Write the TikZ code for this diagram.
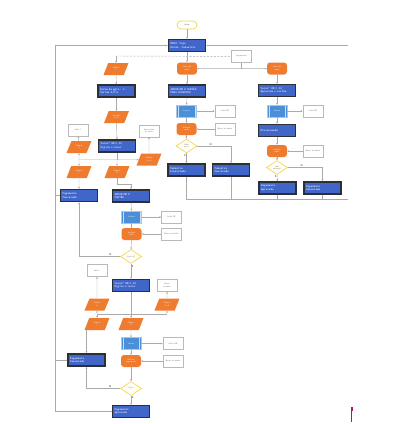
\documentclass[tikz,border=0pt]{standalone}
\usetikzlibrary{shapes.geometric,arrows.meta}

\definecolor{lcdblue}{HTML}{3F66C8}
\definecolor{lcdframe}{HTML}{2C2F36}
\definecolor{inorange}{HTML}{EF7C2E}
\definecolor{procblue}{HTML}{4A8FD8}
\definecolor{decyellow}{HTML}{F3D34A}
\definecolor{wire}{HTML}{AAAAAA}
\definecolor{markpink}{HTML}{B0186A}

\tikzset{
  lcd/.style={draw=lcdframe, line width=1.5pt, fill=lcdblue, text=white,
    minimum width=37pt, minimum height=12pt, inner sep=0pt, text width=33pt,
    align=left, font=\ttfamily\fontsize{3}{3.5}\selectfont},
  entrada/.style={trapezium, trapezium left angle=62, trapezium right angle=118,
    trapezium stretches=true, fill=inorange, text=white, minimum width=25pt,
    minimum height=12pt, inner sep=0pt, align=center,
    font=\sffamily\fontsize{2}{2.5}\selectfont},
  leitor/.style={rectangle, rounded corners=3pt, fill=inorange, text=white,
    minimum width=20pt, minimum height=12pt, inner sep=0pt, align=center,
    font=\sffamily\fontsize{2}{2.5}\selectfont},
  leitura/.style={rectangle, fill=procblue, draw=procblue!50!white, line width=0.4pt,
    text=white, minimum width=20pt, minimum height=12pt, inner sep=0pt,
    font=\sffamily\fontsize{2}{2.5}\selectfont,
    path picture={
      \draw[white!70!procblue, line width=0.3pt]
        ([xshift=1.8pt]path picture bounding box.north west) -- ([xshift=1.8pt]path picture bounding box.south west)
        ([xshift=-1.8pt]path picture bounding box.north east) -- ([xshift=-1.8pt]path picture bounding box.south east);}},
  aviso/.style={rectangle, draw=gray!55, fill=white, line width=0.5pt, text=gray!80!black,
    minimum width=20pt, minimum height=12pt, inner sep=0pt, align=center,
    font=\sffamily\fontsize{2}{2.5}\selectfont},
  decisao/.style={diamond, aspect=1.5, draw=decyellow, fill=yellow!4, line width=0.6pt,
    minimum width=21pt, minimum height=14pt, inner sep=0pt, align=center,
    text=gray!80!black, font=\sffamily\fontsize{1.8}{2.2}\selectfont},
  terminal/.style={rectangle, rounded corners=4pt, draw=decyellow, fill=white, line width=0.7pt,
    minimum width=20pt, minimum height=8pt, inner sep=0pt, text=gray!80!black,
    font=\sffamily\fontsize{2.2}{2.6}\selectfont},
  fio/.style={draw=wire, line width=0.45pt},
  fluxo/.style={fio, -{Stealth[length=2pt,width=1.8pt]}},
  rot/.style={font=\sffamily\bfseries\fontsize{2.6}{3}\selectfont, text=gray!70!black, inner sep=0.6pt}
}

\begin{document}
\begin{tikzpicture}[x=1pt, y=-1pt]
  \useasboundingbox (0,0) rectangle (419,424);
  \fill[white] (0,0) rectangle (419,424);

  % Menu
  \node[terminal] (ini) at (187,25) {Início};
  \node[lcd] (menu) at (187,45.5) {MENU: Tipo\\Botão: Cadastrar};
  \node[aviso] (msg0) at (241.5,56.5) {Aguardando};
  \coordinate (j0) at (187,56);
  \coordinate (j1) at (241.5,68.7);
  \coordinate (retL) at (55,45.5);
  \coordinate (retR) at (348,45.5);
  \coordinate (retB) at (348,199);

  % Pagamento: escolha da forma
  \node[entrada] (e1) at (116,69) {Teclado\\1};
  \node[lcd] (pag) at (116.5,91) {Forma de pgto: 1-\\Cartão 2-Pix};
  \node[entrada] (e2) at (116.5,117) {Teclado\\1 ou 2};
  \node[aviso] (m1) at (78,130) {Valor ?};
  \node[aviso] (m2) at (149,131) {Valor acima\\do limite};
  \node[lcd] (val1) at (117,146) {Valor? R\$ 0,00\\Digite o valor};
  \node[entrada] (e3) at (79,147) {Teclado\\\#};
  \node[entrada] (e4) at (149,159.5) {Teclado\\1 a 9};
  \node[entrada] (e5) at (79,172) {Teclado\\*};
  \node[entrada] (e6) at (117,172) {Teclado\\D};
  \coordinate (j2) at (117,159.5);
  \coordinate (j3) at (117,184);
  \node[lcd] (canc1) at (79,195.5) {Pagamento\\Cancelado};
  \node[lcd] (apr1) at (131,196) {APROXIME O\\CARTÃO ...};

  % Cartao
  \node[leitura] (r3) at (131.5,217) {Leitura};
  \node[aviso] (m3) at (171.5,217) {Leitor RF};
  \node[leitor] (v3) at (131.5,234) {Verificar\\saldo};
  \node[aviso] (b3) at (171.5,234) {Banco de dados};
  \node[decisao] (d3) at (131,256.5) {Saldo ok?};

  % Pix
  \node[aviso] (m4) at (97,270.5) {Valor ?};
  \node[lcd] (val2) at (131,285.5) {Valor? R\$ 0,00\\Digite o valor};
  \node[aviso] (m5) at (167,285.5) {Limite\\excedido};
  \node[entrada] (e7) at (97,304.5) {Teclado\\\#};
  \node[entrada] (e8) at (167,304.5) {Teclado\\1 a 9};
  \node[entrada] (e9) at (97,324) {Teclado\\*};
  \node[entrada] (e10) at (131,324) {Teclado\\D};
  \coordinate (j4) at (131,314);
  \node[leitura] (r4) at (131,343.5) {Leitura};
  \node[aviso] (m6) at (173,343.5) {Leitor QR};
  \node[leitor] (v4) at (131,361) {Verificar\\pagamento};
  \node[aviso] (b4) at (173,361) {Banco de dados};
  \node[lcd] (canc2) at (86.5,360) {Pagamento\\Cancelado};
  \node[decisao] (d4) at (131,388.5) {Pago?};
  \node[lcd] (apr2) at (131,411.5) {Pagamento\\Aprovado};

  % Cadastro
  \node[leitor] (l1) at (187,68.5) {Leitor de\\cartão};
  \node[lcd] (cad) at (187,91) {APROXIME O CARTÃO\\PARA CADASTRO};
  \node[leitura] (r1) at (186.5,111) {Leitura};
  \node[aviso] (m7) at (225,111) {Leitor RF};
  \node[leitor] (v1) at (186.5,129) {Verificar\\cartão};
  \node[aviso] (b1) at (225,129) {Banco de dados};
  \node[decisao] (d1) at (186.5,146) {Cartão\\novo?};
  \node[lcd] (fin1) at (186.5,170) {Cadastro\\Finalizado};
  \node[lcd] (fin2) at (231,170) {Cadastro\\Cancelado};

  % Pagamento por aproximacao
  \node[leitor] (l2) at (277,68.5) {Leitor de\\cartão};
  \node[lcd] (val3) at (277,90.5) {Valor? R\$ 0,00\\Aproxime o cartão};
  \node[leitura] (r2) at (277,111) {Leitura};
  \node[aviso] (m8) at (313,111) {Leitor RF};
  \node[lcd] (proc) at (277,130.5) {Processando};
  \node[leitor] (v2) at (277,151) {Verificar\\saldo};
  \node[aviso] (b2) at (313,151) {Banco de dados};
  \node[decisao] (d2) at (277,167.5) {Saldo\\suficiente?};
  \node[lcd] (ok2) at (277.5,188) {Pagamento\\Aprovado};
  \node[lcd] (no2) at (322.5,188) {Pagamento\\Cancelado};

  % Ligacoes do menu
  \draw[fluxo] (ini) -- (menu);
  \draw[fluxo] (menu) -- (l1);
  \draw[fio, dashed, dash pattern=on 2pt off 1.5pt] (e1 |- j0) -- (msg0);
  \draw[fluxo] (e1 |- j0) -- (e1);
  \draw[fio] (msg0) -- (j1);
  \draw[fluxo] (j1) -- (l1);
  \draw[fluxo] (j1) -- (l2);

  % Escolha da forma
  \draw[fluxo] (e1) -- (pag);
  \draw[fluxo] (pag) -- (e2);
  \draw[fluxo] (e2) -- (val1);
  \draw[fio] (val1) -- (j2);
  \draw[fluxo] (e3 |- j2) -- (e4);
  \draw[fluxo] (e3 |- j2) -- (e3);
  \draw[fluxo] (e3) -- (m1);
  \draw[fluxo] (e4) -- (m2);
  \draw[fluxo] (e3 |- j2) -- (e5);
  \draw[fluxo] (j2) -- (e6);
  \draw[fluxo] (e5) -- (canc1);
  \draw[fluxo] (e6) -- (j3) -| (apr1);

  % Cartao
  \draw[fluxo] (apr1) -- (r3);
  \draw[fluxo] (r3) -- (m3);
  \draw[fluxo] (r3) -- (v3);
  \draw[fluxo] (b3) -- (v3);
  \draw[fluxo] (v3) -- (d3);
  \draw[fluxo] (d3) -- node[rot, pos=0.2, right] {S} (val2);
  \draw[fluxo] (d3.west) -| node[rot, pos=0.12, above] {N} (canc1);

  % Pix
  \draw[fio] (val2) -- (j4);
  \draw[fio] (e7 |- j4) -- (e8 |- j4);
  \draw[fluxo] (e7 |- j4) -- (e7);
  \draw[fluxo] (e7) -- (m4);
  \draw[fluxo] (e8 |- j4) -- (e8);
  \draw[fluxo] (e8) -- (m5);
  \draw[fluxo] (e7 |- j4) -- (e9);
  \draw[fluxo] (j4) -- (e10);
  \draw[fluxo] (e9.south -| canc2) -- (canc2);
  \draw[fluxo] (e10) -- (r4);
  \draw[fluxo] (r4) -- (m6);
  \draw[fluxo] (r4) -- (v4);
  \draw[fluxo] (b4) -- (v4);
  \draw[fluxo] (v4) -- (d4);
  \draw[fluxo] (d4) -- node[rot, pos=0.25, right] {S} (apr2);
  \draw[fluxo] (d4.west) -| node[rot, pos=0.15, above] {N} (canc2);

  % Cadastro
  \draw[fluxo] (l1) -- (cad);
  \draw[fluxo] (cad) -- (r1);
  \draw[fluxo] (r1) -- (m7);
  \draw[fluxo] (r1) -- (v1);
  \draw[fluxo] (b1) -- (v1);
  \draw[fluxo] (v1) -- (d1);
  \draw[fluxo] (d1) -- node[rot, pos=0.25, left] {S} (fin1);
  \draw[fluxo] (d1.east) -| node[rot, pos=0.2, above] {N} (fin2);

  % Aproximacao
  \draw[fluxo] (l2) -- (val3);
  \draw[fluxo] (val3) -- (r2);
  \draw[fluxo] (r2) -- (m8);
  \draw[fluxo] (r2) -- (proc);
  \draw[fluxo] (proc) -- (v2);
  \draw[fluxo] (b2) -- (v2);
  \draw[fluxo] (v2) -- (d2);
  \draw[fluxo] (d2) -- node[rot, pos=0.25, left] {S} (ok2);
  \draw[fluxo] (d2.east) -| node[rot, pos=0.2, above] {N} (no2);

  % Retorno ao menu
  \draw[fio] (fin1) |- (retB);
  \draw[fio] (fin2) -- (fin2 |- retB);
  \draw[fio] (ok2) -- (ok2 |- retB);
  \draw[fio] (no2) -- (no2 |- retB);
  \draw[fluxo] (retR) -- (menu);
  \draw[fluxo] (apr2) -| (retL) -- (menu);
  \draw[fio] (canc1) -- (canc1 -| retL);
  \draw[fio] (canc2) -- (canc2 -| retL);

  % Marca
  \draw[markpink, line width=0.9pt] (351,408) -- (351,422);
  \fill[markpink] (350.6,407) rectangle (353.2,410.5);
\end{tikzpicture}
\end{document}
